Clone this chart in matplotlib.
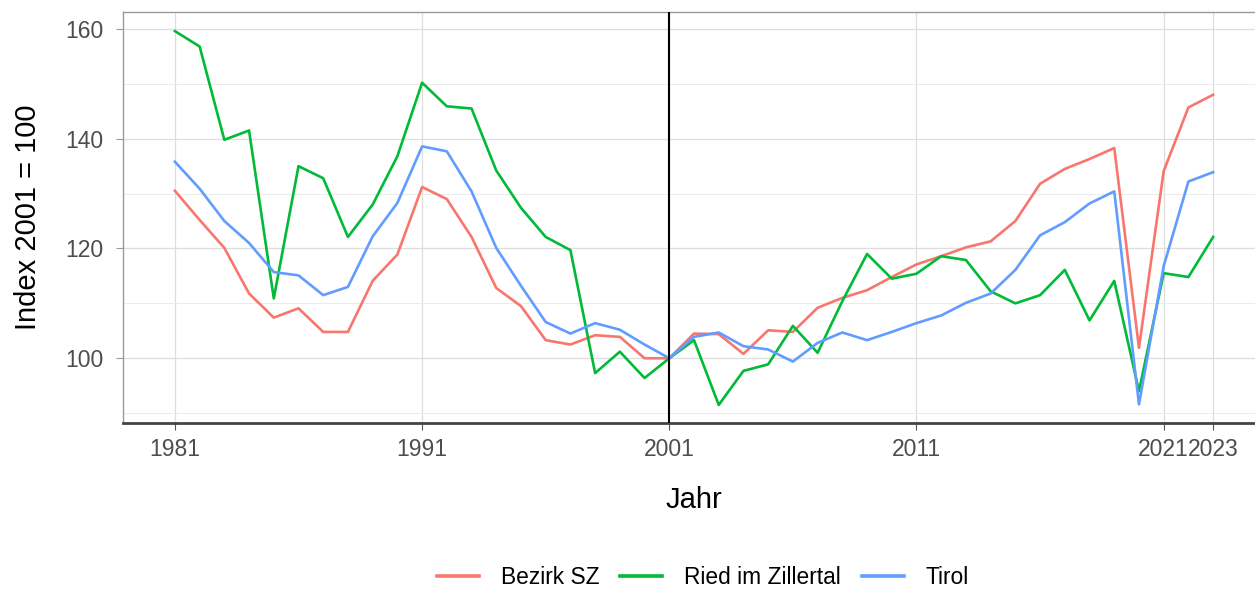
import matplotlib.pyplot as plt
from matplotlib.ticker import MultipleLocator

plt.rcParams['font.family'] = ['Liberation Sans', 'DejaVu Sans']

years = list(range(1981, 2024))

bezirk_sz = [130.5, 125.2, 120.1, 111.8, 107.4, 109.1, 104.8, 104.8, 114.1, 118.9,
             131.2, 129.0, 122.1, 112.8, 109.5, 103.3, 102.5, 104.2, 103.9, 100.0,
             100.0, 104.5, 104.4, 100.8, 105.1, 104.8, 109.2, 111.0, 112.4, 114.8,
             117.1, 118.6, 120.2, 121.3, 125.0, 131.8, 134.5, 136.3, 138.3, 101.9,
             134.1, 145.7, 148.0]
ried = [159.6, 156.8, 139.8, 141.5, 110.9, 135.0, 132.8, 122.1, 128.0, 136.8,
        150.2, 145.9, 145.5, 134.2, 127.4, 122.1, 119.7, 97.3, 101.2, 96.4,
        100.0, 103.3, 91.5, 97.7, 98.9, 105.9, 101.0, 110.4, 119.0, 114.5,
        115.4, 118.6, 117.9, 112.2, 110.0, 111.5, 116.1, 106.9, 114.1, 94.0,
        115.5, 114.8, 122.1]
tirol = [135.8, 130.9, 125.0, 121.0, 115.7, 115.1, 111.5, 113.0, 122.2, 128.3,
         138.6, 137.7, 130.4, 120.1, 113.2, 106.6, 104.5, 106.4, 105.2, 102.5,
         100.0, 103.9, 104.7, 102.2, 101.6, 99.4, 102.8, 104.7, 103.3, 104.8,
         106.4, 107.8, 110.1, 111.8, 116.1, 122.4, 124.8, 128.2, 130.4, 91.6,
         116.8, 132.2, 133.9]

series = [("Bezirk SZ", bezirk_sz, "#F8766D"),
          ("Ried im Zillertal", ried, "#00BA38"),
          ("Tirol", tirol, "#619CFF")]

x_ticks = [1981, 1991, 2001, 2011, 2021, 2023]

fig = plt.figure(figsize=(12.55, 5.95), dpi=100)
ax = fig.add_axes([0.098, 0.289, 0.91, 0.691])

for name, vals, col in series:
    ax.plot(years, vals, color=col, lw=1.9, label=name, zorder=3)

ax.axvline(2001, color='black', lw=1.5, zorder=4)

ax.set_xlim(1978.9, 2025.1)
ax.set_ylim(88.2, 163.1)
ax.set_xticks(x_ticks)
ax.yaxis.set_major_locator(MultipleLocator(20))
ax.yaxis.set_minor_locator(MultipleLocator(10))
ax.grid(True, which='major', color='#DEDEDE', lw=0.9)
ax.grid(True, which='minor', axis='y', color='#EBEBEB', lw=0.7)
ax.set_axisbelow(True)

for s in ['top', 'left', 'right']:
    ax.spines[s].set_color('#999999')
    ax.spines[s].set_linewidth(1.0)
ax.spines['bottom'].set_color('#444444')
ax.spines['bottom'].set_linewidth(2.0)

ax.tick_params(axis='both', which='major', labelsize=16.5, labelcolor='#4D4D4D',
               color='#555555', length=5)
ax.tick_params(axis='x', pad=6)
ax.tick_params(axis='y', pad=9, color='#999999')
ax.tick_params(axis='y', which='minor', length=0)

ax.set_xlabel("Jahr", fontsize=21, labelpad=18)
ax.set_ylabel("Index 2001 = 100", fontsize=21, labelpad=17)

leg = fig.legend(loc='lower center', bbox_to_anchor=(0.56, 0.0), ncol=3, frameon=False,
                 fontsize=16.4, handlelength=1.85, columnspacing=0.92,
                 handletextpad=0.95, borderaxespad=0.1, borderpad=0.15)
for h in leg.get_lines():
    h.set_linewidth(2.6)

fig.savefig("out.png", dpi=100)
